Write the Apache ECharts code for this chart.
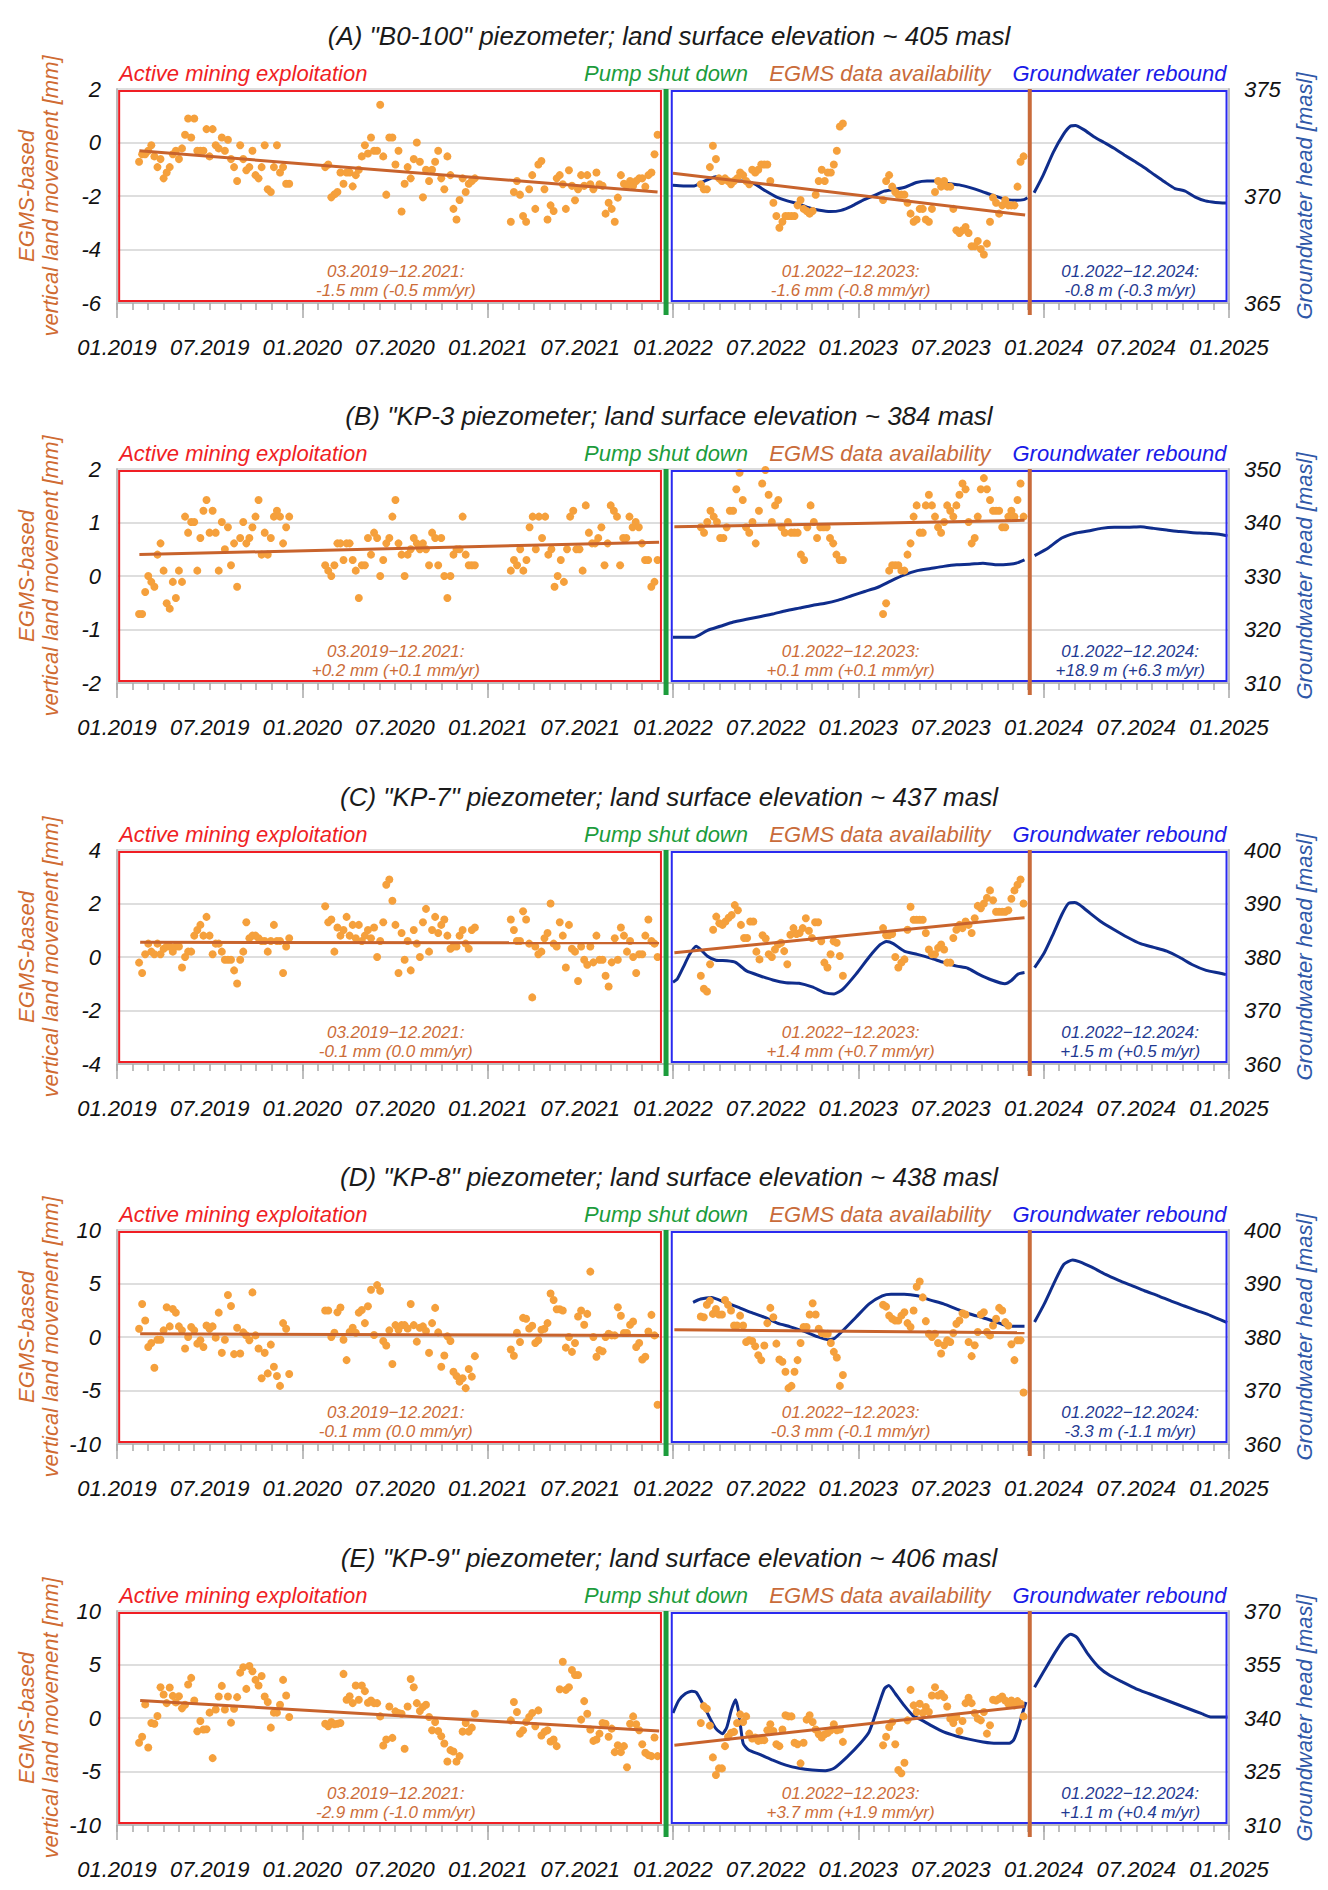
<!DOCTYPE html>
<html><head><meta charset="utf-8">
<script src="https://cdn.jsdelivr.net/npm/echarts/dist/echarts.min.js"></script>
<style>html,body{margin:0;padding:0;background:#fff}#c{width:1328px;height:1890px}</style>
</head><body><div id="c"></div>
<script>
// ---------------- DATA ----------------
// x values are months since 01.2019
const tickLabels = ['01.2019','07.2019','01.2020','07.2020','01.2021','07.2021','01.2022','07.2022','01.2023','07.2023','01.2024','07.2024','01.2025'];
const titles = [
  '(A) "B0-100" piezometer; land surface elevation ~ 405 masl',
  '(B) "KP-3 piezometer; land surface elevation ~ 384 masl',
  '(C) "KP-7" piezometer; land surface elevation ~ 437 masl',
  '(D) "KP-8" piezometer; land surface elevation ~ 438 masl',
  '(E) "KP-9" piezometer; land surface elevation ~ 406 masl'
];
const leftMin = [-6, -2, -4, -10, -10];
const leftMax = [2, 2, 4, 10, 10];
const leftStep = [2, 1, 2, 5, 5];
const rightMin = [365, 310, 360, 360, 310];
const rightMax = [375, 350, 400, 400, 370];
const rightStep = [5, 10, 10, 10, 15];
const noteMining = ['-1.5 mm (-0.5 mm/yr)', '+0.2 mm (+0.1 mm/yr)', '-0.1 mm (0.0 mm/yr)', '-0.1 mm (0.0 mm/yr)', '-2.9 mm (-1.0 mm/yr)'];
const noteEgms = ['-1.6 mm (-0.8 mm/yr)', '+0.1 mm (+0.1 mm/yr)', '+1.4 mm (+0.7 mm/yr)', '-0.3 mm (-0.1 mm/yr)', '+3.7 mm (+1.9 mm/yr)'];
const noteGw = ['-0.8 m (-0.3 m/yr)', '+18.9 m (+6.3 m/yr)', '+1.5 m (+0.5 m/yr)', '-3.3 m (-1.1 m/yr)', '+1.1 m (+0.4 m/yr)'];

// EGMS acquisition seasons (regular ~6-day sampling inside each)
const seasonStart = [1.43, 13.48, 25.5, 37.8, 49.6];
const seasonEnd = [11.15, 23.17, 35.0, 47.0, 58.7];

// event months
const pumpShutDown = 35.55;
const egmsEnd = 59.1;

const egmsA = [
 [-0.72,-0.44,-0.44,-0.31,-0.1,-0.52,-0.92,-0.62,-1.34,-1.12,-0.92,-0.44,-0.31,-0.62,-0.22,0.29,0.9,0.19,0.9,-0.31,-0.31,-0.31,0.5,-0.52,0.5,-0.1,-0.22,0.19,-0.31,0.1,-0.62,-0.92,-1.44,-0.1,-0.62,-1.04,-0.92,-0.31,-1.22,-1.34,-0.92,-0.1,-1.75,-1.85,-0.92,-0.1,-1.12,-0.92,-1.54,-1.54],
 [-0.92,-0.82,-2.05,-1.94,-1.85,-1.12,-1.54,-1.12,-1.12,-1.64,-1.22,-1.02,-0.52,-0.1,-0.41,0.19,-0.31,-0.31,1.41,-0.52,-1.95,0.19,0.19,-0.82,-0.31,-2.58,-1.54,-0.92,-1.34,-0.62,0.0,-0.72,-2.05,-1.02,-1.44,-1.02,-0.72,-0.31,-1.34,-1.75,-0.52,-1.22,-2.48,-2.88,-2.15,-1.34,-1.85,-1.54,-1.44,-1.34],
 [-2.96,-1.85,-1.44,-1.95,-2.75,-2.96,-1.75,-1.22,-2.48,-0.82,-0.69,-1.75,-2.88,-2.35,-2.56,-1.34,-1.22,-1.56,-2.48,-1.04,-1.62,-2.16,-1.75,-1.22,-1.62,-1.22,-1.56,-1.75,-1.12,-1.56,-1.62,-2.66,-2.25,-2.48,-2.96,-2.06,-1.22,-1.54,-1.62,-1.44,-1.62,-1.44,-1.34,-1.34,-1.65,-1.22,-1.12,-0.44,0.29],
 [-1.56,-1.75,-1.75,-0.92,-0.12,-0.62,-1.34,-1.44,-1.34,-1.44,-1.56,-1.44,-1.34,-1.12,-1.22,-1.44,-1.56,-1.02,-1.12,-1.02,-0.82,-0.82,-0.82,-1.44,-2.25,-2.75,-3.19,-2.96,-2.75,-2.75,-2.75,-2.75,-2.35,-2.15,-2.48,-2.56,-2.66,-2.56,-1.95,-1.44,-1.02,-1.44,-1.12,-1.12,-0.82,-0.31,0.6,0.71],
 [-2.15,-1.44,-1.22,-1.65,-1.85,-1.95,-1.95,-1.95,-2.25,-2.66,-2.96,-2.88,-2.48,-2.48,-2.88,-2.96,-2.48,-1.85,-1.44,-1.65,-1.44,-1.65,-1.65,-2.48,-3.28,-3.38,-3.28,-3.16,-3.38,-3.88,-3.88,-3.68,-3.98,-4.19,-3.78,-2.96,-2.06,-2.25,-2.66,-2.35,-2.15,-2.35,-2.35,-2.35,-1.65,-0.72,-0.52]
];
const egmsB = [
 [-0.71,-0.71,-0.3,0.0,-0.11,-0.2,0.4,0.61,0.1,-0.51,-0.61,-0.11,-0.41,0.1,-0.11,1.11,0.81,1.01,1.01,0.1,0.71,1.22,1.42,0.81,1.22,0.81,0.1,1.01,0.5,0.91,0.2,0.61,-0.2,0.71,1.01,0.61,0.71,0.91,1.11,1.42,0.4,0.81,0.4,0.71,1.11,1.22,1.11,0.61,0.91,1.11],
 [0.2,0.1,0.0,0.2,0.61,0.61,0.3,0.61,0.61,0.3,0.1,-0.41,0.2,0.2,0.71,0.4,0.81,0.71,0.0,0.3,0.61,0.71,1.11,1.42,0.61,0.4,0.0,0.4,0.5,0.71,0.61,0.5,0.61,0.5,0.2,0.81,0.71,0.2,0.71,0.0,-0.41,0.0,0.4,0.5,0.5,1.11,0.4,0.2,0.2,0.2],
 [0.1,0.3,0.2,0.5,0.1,0.3,0.91,1.11,0.5,1.11,0.71,1.11,0.4,0.5,-0.2,0.0,0.3,-0.11,0.5,1.11,1.22,0.5,0.5,0.1,1.32,0.81,0.61,0.61,0.71,0.91,0.2,0.61,1.32,1.22,1.11,0.2,0.71,0.71,1.11,0.91,1.01,0.91,0.61,0.3,0.3,-0.2,-0.11,0.3],
 [0.91,0.81,1.01,1.22,1.11,1.01,0.71,0.71,0.91,1.22,1.22,1.62,1.93,1.42,0.91,0.81,1.01,0.61,1.22,1.73,1.98,1.52,1.01,1.32,1.42,0.91,0.81,1.01,0.81,0.81,0.81,0.4,0.3,0.91,1.32,1.01,0.71,0.91,0.91,0.91,0.71,0.61,0.4,0.3,0.3],
 [-0.71,-0.51,0.1,0.2,0.2,0.2,0.1,0.1,0.4,0.61,1.11,1.32,0.81,0.81,1.32,1.52,1.32,1.11,0.91,0.81,1.01,1.32,1.22,1.11,1.32,1.52,1.73,1.62,1.01,0.61,0.71,1.11,1.62,1.83,1.62,1.42,1.22,1.22,1.22,0.91,0.91,1.11,1.22,1.11,1.42,1.73,1.11]
];
const egmsC = [
 [-0.21,-0.6,0.1,0.5,0.2,0.1,0.5,0.1,0.31,0.39,0.39,0.2,0.39,0.39,-0.39,0.0,0.2,0.2,0.8,1.01,1.2,0.8,1.5,0.8,0.1,0.5,0.5,0.2,-0.1,-0.1,-0.1,-0.5,-0.99,-0.1,0.2,1.3,0.7,0.8,0.8,0.7,0.6,0.6,0.2,0.6,1.2,0.6,0.6,-0.6,0.39,0.7],
 [1.9,1.3,1.4,0.2,1.1,0.8,1.01,1.5,0.8,1.2,0.7,1.2,0.6,0.8,1.01,0.7,1.1,0.0,0.6,1.3,2.7,2.9,2.1,1.2,-0.6,0.9,-0.1,0.6,-0.5,1.01,0.5,0.0,1.3,1.8,0.2,1.01,1.5,0.9,1.2,1.4,0.8,0.31,0.39,0.39,0.8,1.01,0.5,0.31,1.01,1.1],
 [1.4,1.01,0.6,0.6,1.71,1.4,0.5,-1.51,0.39,0.1,0.2,0.7,0.9,2.0,0.5,0.39,1.3,0.8,-0.39,1.2,0.31,0.2,-0.9,0.39,-0.1,-0.29,0.39,-0.2,0.8,-0.1,-0.1,-0.7,-1.1,-0.2,0.7,-0.1,1.1,0.8,0.2,0.6,0.0,-0.6,0.1,0.1,0.8,1.4,0.6,0.5,0.0],
 [-0.7,-1.19,-1.29,-0.27,1.02,1.51,1.26,1.2,1.33,1.47,1.57,1.94,1.75,1.2,0.71,0.71,1.33,1.33,0.2,-0.09,0.81,0.69,0.1,0.0,0.28,0.47,0.53,0.22,-0.27,0.83,1.08,0.86,0.9,1.08,1.45,0.98,0.71,1.3,1.3,0.59,-0.21,-0.39,0.1,0.59,0.53,0.04,-0.7],
 [1.08,0.81,0.81,0.86,0.0,-0.39,-0.21,-0.09,1.02,1.88,1.39,1.39,1.39,1.39,0.9,0.28,0.1,0.1,0.34,0.47,0.28,-0.21,-0.21,0.71,1.02,1.2,1.08,1.33,1.2,0.9,1.45,1.91,1.82,2.0,2.21,2.49,2.12,1.69,1.69,1.69,1.69,1.75,2.18,2.49,2.7,2.9,2.0]
];
const egmsD = [
 [0.77,3.09,1.54,-0.93,-0.56,-2.87,-0.25,-0.25,0.62,2.78,0.99,2.62,2.28,0.99,0.62,-1.08,0.0,0.93,0.62,-0.62,-0.31,-0.93,1.08,0.77,0.99,-0.06,2.28,-1.48,-0.25,3.92,2.9,-1.6,0.86,-1.54,0.43,0.15,-0.31,4.17,0.15,-1.08,-3.86,-1.48,-3.4,-0.71,-2.78,-3.64,-4.57,1.3,0.77,-3.46],
 [2.47,2.47,0.0,0.4,2.31,2.75,-0.25,-2.16,0.46,0.86,0.4,2.28,2.53,1.3,2.87,4.41,0.19,4.85,4.32,-0.37,-0.8,0.62,-2.53,1.11,0.68,1.11,1.11,0.8,3.09,1.11,-0.43,0.86,0.99,0.56,-1.48,1.3,2.72,0.43,-2.78,-1.73,0.06,-0.37,-3.24,-3.64,-4.17,-3.86,-4.78,-2.99,-3.7,-1.79],
 [-1.17,-1.76,0.4,-0.46,1.79,1.7,0.8,1.05,-0.56,-0.31,0.68,0.77,1.3,4.07,3.46,2.59,2.59,2.47,-0.99,0.0,-1.39,-0.56,1.91,2.47,1.14,2.16,6.11,0.0,-1.85,-1.23,-1.33,0.0,0.31,0.15,0.15,2.78,1.98,0.37,0.37,1.14,1.45,-0.93,-0.56,-2.1,-1.85,0.52,2.07,0.15,-6.33],
 [1.91,1.85,3.02,3.4,2.16,2.62,2.1,2.1,3.46,3.02,2.47,1.08,1.08,2.0,1.08,-0.46,-0.31,-0.37,-0.86,-1.7,-2.16,-0.8,1.3,2.72,1.85,-0.62,-2.1,-2.31,-3.24,-4.78,-4.57,-3.24,-2.16,-0.56,0.93,0.93,2.1,3.15,2.1,0.77,0.37,0.31,0.31,-0.56,-1.39,-1.91,-4.57,-3.55],
 [3.02,2.84,2.0,1.7,1.54,1.54,2.0,2.31,1.3,0.93,2.47,4.69,5.19,3.7,1.48,0.31,0.0,0.31,-0.56,-1.54,-0.77,-0.31,-0.46,0.37,1.23,1.54,2.22,2.1,-0.46,-1.79,-0.77,0.46,2.1,2.31,0.46,0.15,1.08,1.7,2.72,2.47,1.39,1.08,-0.68,-2.16,-0.31,-0.31,-5.19]
];
const egmsE = [
 [-2.32,-1.76,1.27,-2.76,-0.46,-0.53,0.19,2.88,2.2,1.39,2.85,2.07,1.46,2.04,0.9,1.24,3.13,3.75,1.64,-1.24,-0.28,-1.08,-1.05,0.5,-3.75,0.8,2.01,3.0,0.8,2.01,-0.43,0.87,1.95,4.24,4.74,2.72,4.86,4.37,3.56,3.03,3.93,2.01,1.49,-0.9,0.5,0.5,1.24,3.56,2.11,0.09],
 [-0.53,-0.77,-0.37,-0.59,-0.53,-0.46,4.12,1.7,2.04,1.39,3.03,1.7,3.03,2.51,1.42,1.64,1.39,1.39,0.15,-2.57,-2.01,1.08,-1.86,0.62,0.46,0.4,-2.88,1.08,3.65,2.88,1.39,0.65,1.02,1.24,0.09,-1.15,-0.37,-1.21,-1.7,-2.38,-4.06,-3.0,-3.13,-4.06,-3.56,-1.27,-0.46,-1.27,-0.9,0.4],
 [-0.22,1.49,0.56,-1.46,-1.15,-0.37,0.09,0.46,-0.77,0.71,-1.64,-1.3,-1.15,-2.2,-2.01,-2.63,2.69,5.26,2.63,2.88,4.49,4.02,4.02,-0.15,1.58,0.4,-1.08,-2.14,-2.01,-1.46,-0.46,-0.53,-1.76,-0.99,-3.19,-2.54,-3.19,-2.63,-4.61,-0.53,0.15,-0.59,-1.15,-2.45,-3.25,-3.47,-3.56,-1.83,-3.56],
 [-0.46,1.11,0.87,-0.71,-3.68,-5.33,-4.71,-4.71,-2.63,-1.76,-1.39,-1.3,-0.46,0.34,-0.37,0.15,-1.46,-1.92,-1.83,-2.14,-2.07,-2.07,-1.15,-0.59,-1.21,-2.45,-2.63,-1.08,0.25,0.15,0.15,-2.32,-2.45,-4.24,-2.32,-0.15,0.25,-0.37,-1.08,-1.52,-1.83,-1.52,-1.39,-1.15,-0.59,-1.15,-1.08,-2.23],
 [-2.54,-1.76,-0.84,-0.37,-2.45,-4.86,-5.17,-4.18,-0.22,2.63,1.18,0.56,1.33,0.46,1.02,0.56,2.11,2.88,2.11,2.26,1.95,1.08,-0.06,-0.46,0.09,-1.21,-0.28,1.39,1.89,1.39,0.46,-0.06,-0.22,0.56,-1.46,-0.68,1.7,1.64,1.8,2.01,1.64,1.33,1.64,1.18,1.58,1.33,0.15]
];

// linear trends [month, mm]
const trendMiningA = [[1.45,-0.31],[35.0,-1.85]], trendEgmsA = [[36.0,-1.15],[58.8,-2.71]];
const trendMiningB = [[1.45,0.40],[35.1,0.63]],  trendEgmsB = [[36.09,0.92],[58.76,1.04]];
const trendMiningC = [[1.5,0.55],[35.1,0.53]],   trendEgmsC = [[36.09,0.16],[58.76,1.47]];
const trendMiningD = [[1.5,0.30],[35.1,0.15]],   trendEgmsD = [[36.09,0.68],[58.76,0.40]];
const trendMiningE = [[1.5,1.64],[35.1,-1.21]],  trendEgmsE = [[36.09,-2.54],[58.76,1.08]];

// groundwater head [month, masl]; two pieces split at the end of EGMS data
const gwA1 = [[35.97,370.5],[36.67,370.47],[37.37,370.47],[37.83,370.63],[38.30,370.78],[38.76,370.9],[39.22,370.83],[39.92,370.7],[40.62,370.7],[41.31,370.55],[42.01,370.23],[42.71,369.95],[43.40,369.77],[44.10,369.64],[44.79,369.45],[45.49,369.33],[46.19,369.27],[46.88,369.33],[47.58,369.53],[48.28,369.8],[48.97,370.0],[49.67,370.23],[50.36,370.31],[51.06,370.42],[51.76,370.63],[52.45,370.7],[53.15,370.7],[53.84,370.58],[54.54,370.52],[55.24,370.39],[55.94,370.23],[56.63,370.05],[57.33,369.89],[58.02,369.8],[58.72,369.83],[58.95,369.92]];
const gwA2 = [[59.38,370.15],[59.97,370.98],[60.63,372.05],[61.28,372.88],[61.72,373.26],[62.05,373.29],[62.60,373.1],[63.25,372.77],[63.91,372.5],[64.56,372.23],[65.22,371.92],[65.88,371.62],[66.53,371.32],[67.19,370.98],[67.85,370.65],[68.50,370.35],[69.16,370.23],[69.82,369.95],[70.47,369.77],[71.13,369.7],[71.83,369.67]];
const gwB1 = [[36.0,318.57],[36.37,318.57],[37.36,318.57],[38.21,319.8],[39.06,320.6],[39.91,321.4],[40.76,321.9],[41.61,322.4],[42.46,322.9],[43.31,323.5],[44.16,324.0],[45.01,324.5],[45.86,324.9],[46.71,325.5],[47.56,326.3],[48.41,327.1],[49.27,327.9],[50.12,329.1],[50.97,330.2],[51.82,331.0],[52.67,331.4],[53.52,331.8],[54.37,332.1],[55.22,332.2],[56.07,332.4],[56.92,332.1],[57.77,332.2],[58.34,332.5],[58.76,333.0]];
const gwB2 = [[59.41,333.8],[60.32,335.3],[61.17,337.1],[62.02,338.0],[62.87,338.4],[63.72,338.9],[64.57,339.1],[65.42,339.1],[66.27,339.2],[67.12,338.9],[67.97,338.6],[68.82,338.3],[69.67,338.1],[70.52,338.0],[71.37,337.8],[71.9,337.5]];
const gwC1 = [[36.0,375.28],[36.28,375.9],[36.65,378.0],[37.08,380.5],[37.50,382.0],[37.79,381.4],[38.21,380.2],[38.78,379.4],[39.49,379.3],[40.05,379.0],[40.76,377.4],[41.61,376.5],[42.46,375.7],[43.31,375.2],[44.16,375.1],[45.01,374.4],[45.86,373.3],[46.43,373.1],[47.00,374.0],[47.85,376.8],[48.70,380.0],[49.41,382.3],[49.83,382.9],[50.26,382.5],[50.97,381.1],[51.82,380.5],[52.67,379.8],[53.52,379.0],[54.37,378.3],[55.08,377.9],[55.78,376.8],[56.64,375.7],[57.49,375.0],[57.91,375.6],[58.34,376.8],[58.76,377.1]];
const gwC2 = [[59.41,378.0],[60.04,380.8],[60.60,384.2],[61.17,387.9],[61.60,390.0],[62.02,390.2],[62.30,389.8],[62.87,388.5],[63.72,386.6],[64.57,385.1],[65.42,383.7],[66.27,382.5],[67.12,381.8],[67.97,381.1],[68.82,379.9],[69.67,378.5],[70.52,377.5],[71.37,377.0],[71.80,376.7]];
const gwD1 = [[37.30,386.48],[37.79,387.1],[38.49,387.4],[39.34,386.5],[40.20,385.6],[41.05,384.6],[41.90,383.7],[42.75,382.6],[43.60,381.9],[44.45,381.1],[45.30,380.1],[46.01,379.5],[46.43,379.7],[47.00,381.2],[47.85,383.7],[48.70,386.2],[49.55,387.7],[50.12,388.0],[50.97,388.0],[51.82,387.7],[52.67,386.9],[53.52,386.2],[54.37,385.2],[55.22,384.3],[56.07,383.6],[56.92,382.8],[57.77,382.0],[58.76,382.0]];
const gwD2 = [[59.41,382.8],[60.04,386.2],[60.74,390.5],[61.31,393.6],[61.88,394.4],[62.30,394.1],[63.15,393.0],[64.00,391.7],[64.86,390.6],[65.71,389.6],[66.56,388.6],[67.41,387.7],[68.26,386.7],[69.11,385.8],[69.96,384.9],[70.81,384.0],[71.88,382.7]];
const gwE1 = [[36.0,341.4],[36.37,344.9],[36.79,346.8],[37.22,347.5],[37.50,347.2],[37.93,344.0],[38.35,340.3],[38.78,337.0],[39.20,335.6],[39.49,337.5],[39.77,342.1],[40.05,345.1],[40.25,341.7],[40.54,332.9],[40.90,331.0],[41.61,329.8],[42.46,328.2],[43.31,326.8],[44.16,325.9],[45.01,325.4],[45.86,325.2],[46.43,325.9],[47.28,329.1],[48.13,332.9],[48.70,336.1],[49.27,343.1],[49.69,348.2],[49.97,349.1],[50.40,346.8],[50.97,343.5],[51.53,340.7],[52.10,339.4],[52.67,338.0],[53.52,336.1],[54.37,334.9],[55.22,334.0],[56.07,333.3],[56.92,332.9],[57.77,332.9],[58.05,333.8],[58.34,337.0],[58.62,341.2],[58.85,344.5]];
const gwE2 = [[59.41,348.6],[60.04,353.3],[60.74,358.4],[61.31,362.1],[61.74,363.5],[62.16,362.6],[62.87,357.9],[63.58,354.2],[64.29,351.9],[65.14,350.0],[65.99,348.2],[66.84,346.8],[67.69,345.4],[68.54,344.0],[69.39,342.6],[70.24,341.2],[70.81,340.3],[71.37,340.3],[71.9,340.3]];

// ---------------- CHART ----------------
const egms = [egmsA, egmsB, egmsC, egmsD, egmsE];
const trends = [[trendMiningA,trendEgmsA],[trendMiningB,trendEgmsB],[trendMiningC,trendEgmsC],[trendMiningD,trendEgmsD],[trendMiningE,trendEgmsE]];
const gws = [[gwA1,gwA2],[gwB1,gwB2],[gwC1,gwC2],[gwD1,gwD2],[gwE1,gwE2]];

const FONT = "'Liberation Sans', Arial, sans-serif";
const TOPS = [89, 469, 850, 1230, 1611], H = 214, GL = 117, GR = 99;
const AX = '#bdbdbd', TK = '#a8a8a8';
const C_DOT = '#f5a03c', C_TREND = '#c8632c', C_GW = '#0f2d8c';
const C_RED = '#f01e24', C_GREEN = '#1c9c3c', C_BROWN = '#c96b3a', C_BLUE = '#1a1ae8';

const chart = echarts.init(document.getElementById('c'), null, {renderer: 'svg', width: 1328, height: 1890});
const grids = [], xAxes = [], yAxes = [], series = [];
const lab = {fontSize: 22, fontStyle: 'italic', fontFamily: FONT, color: '#111'};

for (let i = 0; i < 5; i++) {
  grids.push({left: GL, right: GR, top: TOPS[i], height: H, containLabel: false, outerBoundsMode: 'none'});
  xAxes.push({type: 'value', gridIndex: i, min: 0, max: 72, interval: 6, position: 'bottom',
    axisLine: {show: true, onZero: false, lineStyle: {color: AX, width: 2}},
    axisTick: {show: true, inside: false, length: 7, lineStyle: {color: TK, width: 1.5}},
    minorTick: {show: true, splitNumber: 6, length: 7, lineStyle: {color: TK, width: 1.5}},
    axisLabel: Object.assign({margin: 33, formatter: v => tickLabels[Math.round(v / 6)]}, lab),
    splitLine: {show: false}, minorSplitLine: {show: false}});
  xAxes.push({type: 'value', gridIndex: i, min: 0, max: 72, interval: 12, position: 'bottom', offset: 0,
    axisLine: {show: false, onZero: false},
    axisTick: {show: true, inside: false, length: 15, lineStyle: {color: TK, width: 1.5}},
    axisLabel: {show: false}, splitLine: {show: false}});
  yAxes.push({type: 'value', gridIndex: i, position: 'left', min: leftMin[i], max: leftMax[i], interval: leftStep[i],
    axisLine: {show: true, onZero: false, lineStyle: {color: AX, width: 2}}, axisTick: {show: false},
    axisLabel: Object.assign({margin: 16}, lab),
    splitLine: {show: true, lineStyle: {color: '#d3d3d3', width: 1.5}}});
  const base = rightMin[i];
  yAxes.push({type: 'value', gridIndex: i, position: 'right', min: 0, max: rightMax[i] - base, interval: rightStep[i],
    axisLine: {show: true, onZero: false, lineStyle: {color: AX, width: 2}}, axisTick: {show: false},
    axisLabel: Object.assign({margin: 15, formatter: v => String(v + base)}, lab),
    splitLine: {show: false}});

  // groundwater head
  gws[i].forEach(piece => series.push({type: 'line', xAxisIndex: 2*i, yAxisIndex: 2*i+1, z: 2, silent: true,
    data: piece.map(p => [p[0], p[1] - base]), symbol: 'none', smooth: 0.2,
    lineStyle: {color: C_GW, width: 3}}));
  // EGMS points
  const pts = [];
  egms[i].forEach((vals, s) => {
    const n = vals.length, step = (seasonEnd[s] - seasonStart[s]) / (n - 1);
    vals.forEach((v, j) => pts.push([seasonStart[s] + j * step, v]));
  });
  series.push({type: 'scatter', xAxisIndex: 2*i, yAxisIndex: 2*i, z: 3, silent: true,
    data: pts, symbolSize: 8, itemStyle: {color: C_DOT, opacity: 1}});
  // trends
  trends[i].forEach(t => series.push({type: 'line', xAxisIndex: 2*i, yAxisIndex: 2*i, z: 4, silent: true,
    data: t, symbol: 'none', lineStyle: {color: C_TREND, width: 3}}));
}

chart.setOption({animation: false, grid: grids, xAxis: xAxes, yAxis: yAxes, series: series});

// annotations & frames anchored to the data axes
const els = [];
function txt(x, y, text, size, color, align, extra) {
  return Object.assign({type: 'text', x: x, y: y, z: 60, silent: true,
    style: {text: text, font: 'italic ' + size + 'px ' + FONT, fill: color, align: align || 'center',
            verticalAlign: 'middle', lineHeight: extra && extra.lh ? extra.lh : size + 2}},
    extra && extra.rotation ? {rotation: extra.rotation} : {});
}
for (let i = 0; i < 5; i++) {
  const X = m => chart.convertToPixel({xAxisIndex: 2*i}, m);
  const top = TOPS[i], bot = top + H, mid = top + H / 2;
  // boxes
  const r1 = X(0.14), r2 = X(35.22), b1 = X(35.92), b2 = X(71.84);
  els.push({type: 'rect', z: 50, silent: true, shape: {x: r1, y: top + 2, width: r2 - r1, height: H - 4},
    style: {fill: 'none', stroke: C_RED, lineWidth: 2}});
  els.push({type: 'rect', z: 50, silent: true, shape: {x: b1, y: top + 2, width: b2 - b1, height: H - 4},
    style: {fill: 'none', stroke: '#2a2af0', lineWidth: 2}});
  // event lines
  const gx = X(pumpShutDown), bx = X(egmsEnd);
  els.push({type: 'line', z: 55, silent: true, shape: {x1: gx, y1: top, x2: gx, y2: bot + 12},
    style: {stroke: C_GREEN, lineWidth: 5}});
  els.push({type: 'line', z: 55, silent: true, shape: {x1: bx, y1: top, x2: bx, y2: bot + 12},
    style: {stroke: C_BROWN, lineWidth: 4}});
  // title and period labels
  els.push(txt(669, top - 53, titles[i], 26, '#1a1a1a'));
  els.push(txt(r1, top - 16, 'Active mining exploitation', 22, C_RED, 'left'));
  els.push(txt(gx, top - 16, 'Pump shut down', 22, C_GREEN));
  els.push(txt(X(49.4), top - 16, 'EGMS data availability', 22, C_BROWN));
  els.push(txt(b2, top - 16, 'Groundwater rebound', 22, C_BLUE, 'right'));
  // in-box notes
  els.push(txt(X(18.05), bot - 22, '03.2019\u221212.2021:\n' + noteMining[i], 17, '#cc6c38', 'center', {lh: 19}));
  els.push(txt(X(47.5), bot - 22, '01.2022\u221212.2023:\n' + noteEgms[i], 17, '#cc6c38', 'center', {lh: 19}));
  els.push(txt(X(65.6), bot - 22, '01.2022\u221212.2024:\n' + noteGw[i], 17, '#1f3a92', 'center', {lh: 19}));
  // axis names
  els.push(txt(38.5, mid, 'EGMS-based\nvertical land movement [mm]', 22, '#d06b32', 'center', {lh: 24, rotation: Math.PI / 2}));
  els.push(txt(1304, mid, 'Groundwater head [masl]', 22, '#2f58a8', 'center', {rotation: Math.PI / 2}));
}
chart.setOption({graphic: {elements: els}});
</script></body></html>
